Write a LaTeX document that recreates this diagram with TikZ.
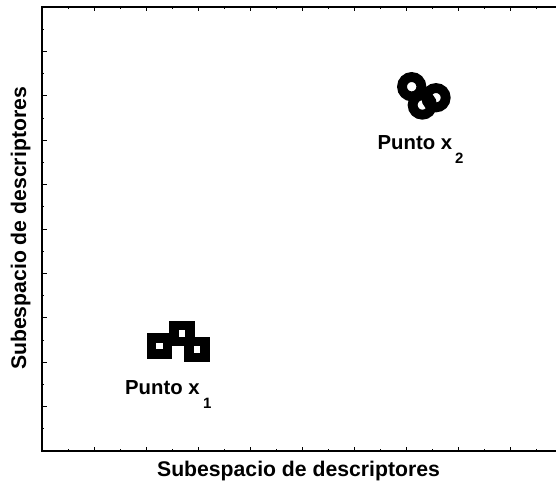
\documentclass[tikz,border=0pt]{standalone}
\usepackage{fontspec}
\setmainfont{Liberation Sans}
\begin{document}
\begin{tikzpicture}[x=1pt,y=-1pt,
  axisline/.style={line width=1.4pt, line cap=rect},
  tickmark/.style={line width=1pt},
  ring/.style={line width=9.8pt, draw=black},
  sqmark/.style={line width=9.3pt, draw=black},
  axislabel/.style={font=\bfseries\fontsize{21.2}{24}\selectfont, inner sep=0pt},
  ptlabel/.style={font=\bfseries\fontsize{20.3}{22}\selectfont, inner sep=0pt, anchor=base west}]
\useasboundingbox (0,0) rectangle (556,484);
% axes
\coordinate (tl) at (42,7);
\coordinate (bl) at (42,451);
\coordinate (br) at (556,451);
\coordinate (tr) at (556,7);
\draw[axisline] (tr) -- (tl) -- (bl) -- (br);
% x ticks (bottom and top)
\foreach \k in {1,...,9} {
  \draw[tickmark] ({42+52*\k},451) -- ++(0,-4.5);
  \draw[tickmark] ({42+52*\k},7) -- ++(0,4.5);
}
\foreach \k in {0,...,9} {
  \draw[tickmark] ({68+52*\k},451) -- ++(0,-2.3);
  \draw[tickmark] ({68+52*\k},7) -- ++(0,2.3);
}
% y ticks
\foreach \k in {1,...,9} {
  \draw[tickmark] (42,{451-44.4*\k}) -- ++(4.5,0);
}
\foreach \k in {0,...,9} {
  \draw[tickmark] (42,{451-22.2-44.4*\k}) -- ++(2.3,0);
}
% axis labels
\node[axislabel, anchor=base] (xlab) at (298.5,476) {Subespacio de descriptores};
\node[axislabel, anchor=base, rotate=90] (ylab) at (26,228.5) {Subespacio de descriptores};
% square markers (point x1)
\draw[sqmark] (159.5,346) ++(-7.9,-7.9) rectangle ++(15.8,15.8);
\draw[sqmark] (182,333.7) ++(-7.9,-7.9) rectangle ++(15.8,15.8);
\draw[sqmark] (197,349.7) ++(-7.9,-7.9) rectangle ++(15.8,15.8);
% circle markers (point x2)
\draw[ring] (411.7,86.7) circle[radius=9.7pt];
\draw[ring] (436,97.7) circle[radius=9.7pt];
\draw[ring] (422.3,105) circle[radius=9.7pt];
% point labels
\node[ptlabel] (p1) at (125,394.5) {Punto x\hspace{3.5pt}\raisebox{-14pt}{\fontsize{15}{15}\selectfont 1}};
\node[ptlabel] (p2) at (377.5,149.5) {Punto x\hspace{3pt}\raisebox{-14pt}{\fontsize{15}{15}\selectfont 2}};
\end{tikzpicture}
\end{document}
